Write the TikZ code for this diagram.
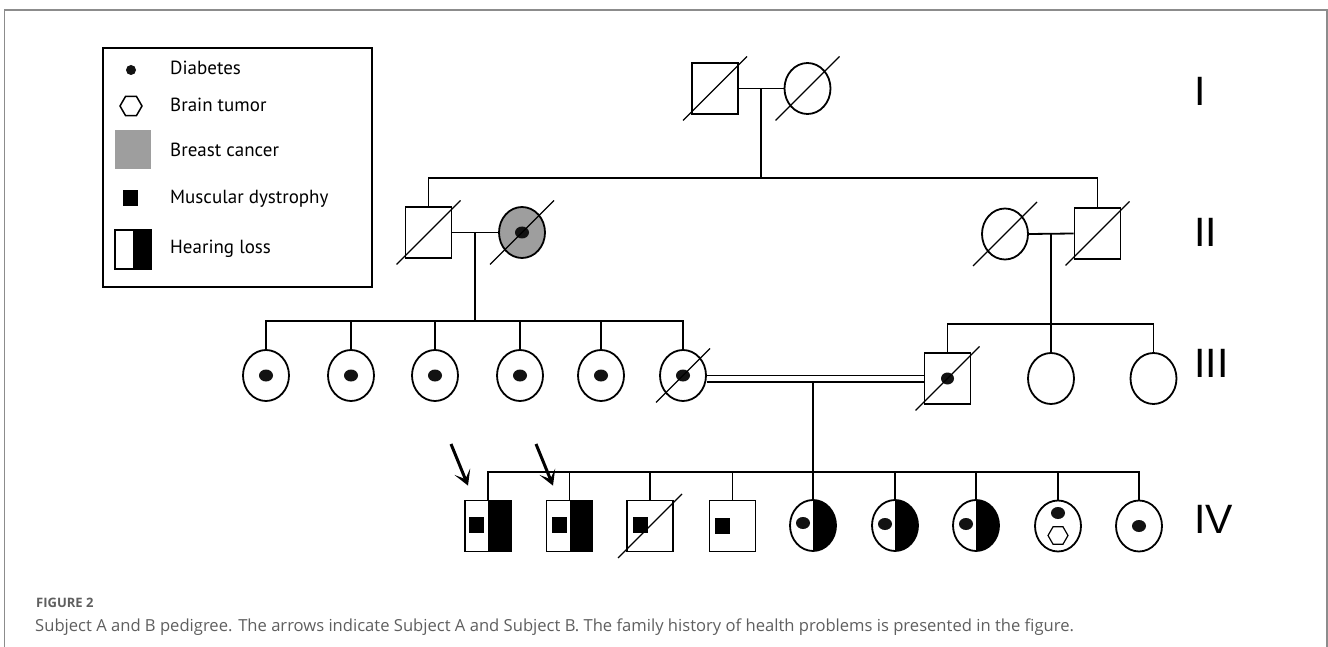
\documentclass[tikz,border=0pt]{standalone}
\usepackage{fontspec}
\setmainfont{PT Sans}
\newfontfamily\genfont{Liberation Sans}
\newfontfamily\capfont{Open Sans}
\usetikzlibrary{shapes.geometric,arrows.meta,calc}
\definecolor{brc}{RGB}{158,158,158}
\definecolor{framegray}{RGB}{140,140,140}
\definecolor{capgray}{RGB}{95,95,95}
\newcommand\deceased[2][32]{\draw[slash] ([shift={(-#1,#1)}]#2.center) -- ([shift={(#1,-#1)}]#2.center);}
\tikzset{
  sym/.style={draw, line width=1.8pt, inner sep=0pt, minimum width=46pt, minimum height=51pt},
  male/.style={sym, rectangle},
  female/.style={sym, ellipse},
  hear/.style={path picture={\fill[black] (path picture bounding box.north) rectangle (path picture bounding box.south east);}},
  dot/.style={ellipse, fill=black!93, inner sep=0pt, minimum width=14pt, minimum height=12pt},
  md/.style={rectangle, fill=black, inner sep=0pt, minimum width=15pt, minimum height=16pt},
  hexa/.style={regular polygon, regular polygon sides=6, draw, line width=1.2pt, inner sep=0pt, minimum size=20pt},
  ln/.style={line width=1.8pt},
  slash/.style={line width=1.3pt},
  lgtext/.style={anchor=base west, inner sep=0pt, font=\fontsize{19}{22}\selectfont},
  gentext/.style={anchor=base west, inner sep=0pt, font=\genfont\fontsize{41}{45}\selectfont},
  pointer/.style={line width=3pt, -{Stealth[length=15pt, width=17pt, inset=8pt]}},
}
\begin{document}
\begin{tikzpicture}[x=1pt, y=-1pt]
\useasboundingbox (0,0) rectangle (1328,647);
\fill[white] (0,0) rectangle (1328,647);
% outer frame
\draw[framegray, line width=1.2pt] (4.5,647) -- (4.5,10) -- (1327,10) -- (1327,647);

% ---------- legend ----------
\node[draw, line width=1.8pt, minimum width=269pt, minimum height=239pt, inner sep=0pt] (legend) at (237.5,167.5) {};
\node[ellipse, fill=black!93, inner sep=0pt, minimum width=10pt, minimum height=10pt] (lgdot) at (131,70) {};
\node[hexa, minimum size=22pt, line width=1.5pt] (lghex) at (131,106) {};
\node[fill=brc, inner sep=0pt, minimum width=36pt, minimum height=39pt] (lgbrc) at (133,149.5) {};
\node[md] (lgmd) at (130.5,198) {};
\node[sym, rectangle, hear, minimum width=36pt, minimum height=39pt] (lghear) at (133,249.5) {};
\node[lgtext] (t1) at (170,75) {Diabetes};
\node[lgtext] (t2) at (170,112) {Brain tumor};
\node[lgtext] (t3) at (170,157) {Breast cancer};
\node[lgtext] (t4) at (170,204) {Muscular dystrophy};
\node[lgtext] (t5) at (170,254) {Hearing loss};

% ---------- generation I ----------
\node[male] (i1) at (715,88.5) {};
\node[female] (i2) at (807.5,88.5) {};
\deceased{i1}
\deceased{i2}
\coordinate (m1) at (761,88.5);
\coordinate (s1) at (761,178);
\draw[ln] (i1.east) -- (i2.west);
\draw[ln] (m1) -- (s1);

% ---------- generation II ----------
\node[male] (ii1) at (428.5,232.5) {};
\node[female, fill=brc] (ii2) at (522,232.5) {};
\node[dot] (ii2d) at (522,232.5) {};
\node[female] (ii3) at (1005,234) {};
\node[male] (ii4) at (1097.5,233.5) {};
\deceased{ii1}
\deceased{ii2}
\deceased{ii3}
\deceased{ii4}
\draw[ln] (ii1.north) |- (s1) -| (ii4.north);
\draw[ln] (ii1.east) -- (ii2.west);
\draw[ln] (ii3.east) -- (ii4.west);
\coordinate (m2) at (475,232.5);
\coordinate (s2) at (475,321);
\coordinate (m3) at (1051,233.5);
\coordinate (s3) at (1051,324);
\draw[ln] (m2) -- (s2);
\draw[ln] (m3) -- (s3);

% ---------- generation III ----------
\foreach \n/\x in {1/266,2/351,3/435,4/520,5/601,6/683}{
  \node[female] (iii\n) at (\x,375.5) {};
  \node[dot] (iii\n d) at (\x,375.5) {};
}
\deceased[27]{iii6}
\node[male] (iii7) at (947.5,378.5) {};
\node[dot, minimum width=13pt, minimum height=12pt] (iii7d) at (947.5,378.5) {};
\deceased{iii7}
\node[female] (iii8) at (1051,378.5) {};
\node[female] (iii9) at (1153.5,378.5) {};

\draw[ln] (iii1.north) |- (s2) -| (iii6.north);
\foreach \n in {2,3,4,5}{\draw[ln] (iii\n.north) -- (iii\n.north |- s2);}
\draw[ln] (iii7.north) |- (s3) -| (iii9.north);
\draw[ln] (iii8.north) -- (s3);

% consanguineous marriage
\draw[ln] (iii6.east) -- (iii6.east -| iii7.west);
\draw[ln] ([yshift=-6.5pt]iii6.east) -- ([yshift=-6.5pt]iii6.east -| iii7.west);
\coordinate (m4) at (813,382);
\coordinate (s4) at (813,472);
\draw[ln] (m4) -- (s4);

% ---------- generation IV ----------
\node[male, hear] (iv1) at (488,526) {};
\node[md] (iv1m) at (476.5,525) {};
\node[male, hear] (iv2) at (569.5,526) {};
\node[md] (iv2m) at (559.5,525) {};
\node[male] (iv3) at (650,526) {};
\node[md] (iv3m) at (640.5,525) {};
\deceased{iv3}
\node[male] (iv4) at (732.5,526) {};
\node[md] (iv4m) at (722,526) {};
\node[female, hear] (iv5) at (813,525.5) {};
\node[dot] (iv5d) at (803,523) {};
\node[female, hear] (iv6) at (895,525.5) {};
\node[dot] (iv6d) at (885,524) {};
\node[female, hear] (iv7) at (976,525.5) {};
\node[dot] (iv7d) at (966,524) {};
\node[female] (iv8) at (1058,526) {};
\node[dot] (iv8d) at (1058,513) {};
\node[hexa] (iv8h) at (1058,535.5) {};
\node[female] (iv9) at (1139,526) {};
\node[dot] (iv9d) at (1139,526) {};

\draw[ln] (iv1.north) |- (s4) -| (iv9.north);
\foreach \n in {2,3,4,6,7,8}{\draw[ln] (iv\n.north) -- (iv\n.north |- s4);}
\draw[ln] (iv5.north) -- (s4);

% proband arrows
\coordinate (a1) at (451,444);
\coordinate (a2) at (536,444);
\draw[pointer] (a1) -- ([shift={(-20,-14)}]iv1.north);
\draw[pointer] (a2) -- ([shift={(-16.5,-14)}]iv2.north);

% generation labels
\node[gentext] (g1) at (1194,106) {I};
\node[gentext] (g2) at (1194,247) {II};
\node[gentext] (g3) at (1194,377) {III};
\node[gentext] (g4) at (1194,533) {IV};

% caption
\node[anchor=base west, inner sep=0pt, text=capgray, font=\capfont\bfseries\fontsize{13}{15}\selectfont] (figlabel) at (36,607) {FIGURE 2};
\node[anchor=base west, inner sep=0pt, text=capgray, font=\capfont\fontsize{16.6}{20}\selectfont] (caption) at (35,631) {Subject A and B pedigree. The arrows indicate Subject A and Subject B. The family history of health problems is presented in the figure.};
\end{tikzpicture}
\end{document}
